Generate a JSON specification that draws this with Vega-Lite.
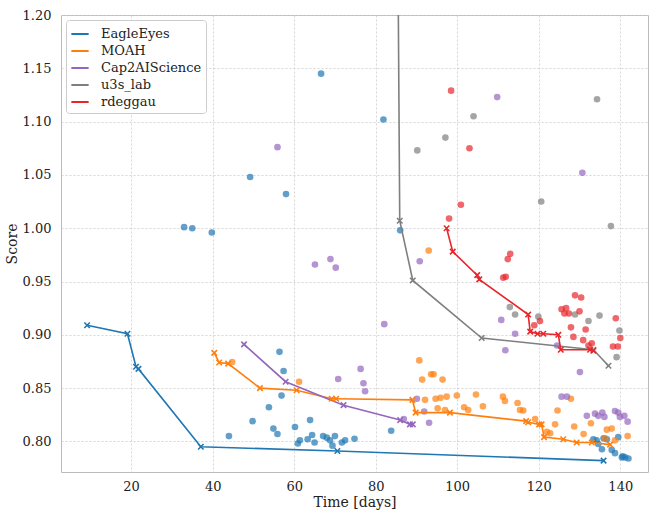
{
  "$schema": "https://vega.github.io/schema/vega-lite/v6.json",
  "width": 587,
  "height": 457,
  "autosize": {"type": "none"},
  "padding": {"left": 61, "top": 15, "right": 1, "bottom": 38},
  "background": "white",
  "config": {
    "font": "DejaVu Serif",
    "view": {"stroke": "#bbbbbb", "strokeWidth": 1},
    "axis": {
      "domain": false,
      "ticks": false,
      "grid": true,
      "gridColor": "#cccccc",
      "gridDash": [2, 2],
      "gridWidth": 0.8,
      "labelFont": "DejaVu Serif",
      "labelFontSize": 13,
      "labelColor": "#222222",
      "titleFont": "DejaVu Serif",
      "titleFontSize": 14,
      "titleFontWeight": "normal",
      "titleColor": "#222222"
    }
  },
  "datasets": {
    "front": [
      {"team": "EagleEyes", "time": 9.2, "score": 0.909},
      {"team": "EagleEyes", "time": 19.1, "score": 0.901},
      {"team": "EagleEyes", "time": 21.2, "score": 0.870},
      {"team": "EagleEyes", "time": 21.8, "score": 0.868},
      {"team": "EagleEyes", "time": 37.1, "score": 0.795},
      {"team": "EagleEyes", "time": 70.6, "score": 0.791},
      {"team": "EagleEyes", "time": 135.9, "score": 0.782},
      {"team": "MOAH", "time": 40.4, "score": 0.883},
      {"team": "MOAH", "time": 41.6, "score": 0.874},
      {"team": "MOAH", "time": 43.8, "score": 0.873},
      {"team": "MOAH", "time": 51.6, "score": 0.850},
      {"team": "MOAH", "time": 60.6, "score": 0.848},
      {"team": "MOAH", "time": 69.2, "score": 0.840},
      {"team": "MOAH", "time": 70.3, "score": 0.840},
      {"team": "MOAH", "time": 89.0, "score": 0.839},
      {"team": "MOAH", "time": 89.8, "score": 0.827},
      {"team": "MOAH", "time": 98.2, "score": 0.827},
      {"team": "MOAH", "time": 116.9, "score": 0.819},
      {"team": "MOAH", "time": 117.4, "score": 0.818},
      {"team": "MOAH", "time": 120.1, "score": 0.816},
      {"team": "MOAH", "time": 120.7, "score": 0.816},
      {"team": "MOAH", "time": 121.3, "score": 0.804},
      {"team": "MOAH", "time": 126.0, "score": 0.802},
      {"team": "MOAH", "time": 129.3, "score": 0.799},
      {"team": "MOAH", "time": 133.0, "score": 0.799},
      {"team": "MOAH", "time": 137.5, "score": 0.797},
      {"team": "Cap2AIScience", "time": 47.7, "score": 0.891},
      {"team": "Cap2AIScience", "time": 57.9, "score": 0.856},
      {"team": "Cap2AIScience", "time": 72.1, "score": 0.834},
      {"team": "Cap2AIScience", "time": 86.0, "score": 0.820},
      {"team": "Cap2AIScience", "time": 88.4, "score": 0.816},
      {"team": "Cap2AIScience", "time": 89.1, "score": 0.816},
      {"team": "u3s_lab", "time": 85.2, "score": 1.40},
      {"team": "u3s_lab", "time": 85.9, "score": 1.007},
      {"team": "u3s_lab", "time": 89.1, "score": 0.951},
      {"team": "u3s_lab", "time": 106.0, "score": 0.897},
      {"team": "u3s_lab", "time": 133.4, "score": 0.886},
      {"team": "u3s_lab", "time": 137.1, "score": 0.871},
      {"team": "rdeggau", "time": 97.4, "score": 1.000},
      {"team": "rdeggau", "time": 98.9, "score": 0.978},
      {"team": "rdeggau", "time": 104.9, "score": 0.956},
      {"team": "rdeggau", "time": 105.4, "score": 0.952},
      {"team": "rdeggau", "time": 117.4, "score": 0.919},
      {"team": "rdeggau", "time": 117.9, "score": 0.903},
      {"team": "rdeggau", "time": 119.7, "score": 0.901},
      {"team": "rdeggau", "time": 121.1, "score": 0.901},
      {"team": "rdeggau", "time": 124.8, "score": 0.900},
      {"team": "rdeggau", "time": 125.4, "score": 0.886},
      {"team": "rdeggau", "time": 132.6, "score": 0.886},
      {"team": "rdeggau", "time": 133.4, "score": 0.885}
    ],
    "pts": [
      {"team": "EagleEyes", "time": 66.6, "score": 1.145},
      {"team": "EagleEyes", "time": 81.9, "score": 1.102},
      {"team": "EagleEyes", "time": 49.2, "score": 1.048},
      {"team": "EagleEyes", "time": 58.0, "score": 1.032},
      {"team": "EagleEyes", "time": 33.0, "score": 1.001},
      {"team": "EagleEyes", "time": 35.0, "score": 1.000},
      {"team": "EagleEyes", "time": 39.8, "score": 0.996},
      {"team": "EagleEyes", "time": 86.0, "score": 0.998},
      {"team": "EagleEyes", "time": 44.0, "score": 0.805},
      {"team": "EagleEyes", "time": 49.8, "score": 0.819},
      {"team": "EagleEyes", "time": 53.8, "score": 0.832},
      {"team": "EagleEyes", "time": 54.9, "score": 0.812},
      {"team": "EagleEyes", "time": 55.9, "score": 0.807},
      {"team": "EagleEyes", "time": 56.4, "score": 0.884},
      {"team": "EagleEyes", "time": 57.4, "score": 0.866},
      {"team": "EagleEyes", "time": 56.9, "score": 0.843},
      {"team": "EagleEyes", "time": 60.2, "score": 0.8135},
      {"team": "EagleEyes", "time": 60.9, "score": 0.798},
      {"team": "EagleEyes", "time": 61.4, "score": 0.801},
      {"team": "EagleEyes", "time": 63.3, "score": 0.802},
      {"team": "EagleEyes", "time": 63.9, "score": 0.820},
      {"team": "EagleEyes", "time": 64.4, "score": 0.806},
      {"team": "EagleEyes", "time": 65.0, "score": 0.799},
      {"team": "EagleEyes", "time": 67.1, "score": 0.805},
      {"team": "EagleEyes", "time": 68.0, "score": 0.8035},
      {"team": "EagleEyes", "time": 68.8, "score": 0.801},
      {"team": "EagleEyes", "time": 70.0, "score": 0.805},
      {"team": "EagleEyes", "time": 69.4, "score": 0.796},
      {"team": "EagleEyes", "time": 71.7, "score": 0.799},
      {"team": "EagleEyes", "time": 72.5, "score": 0.801},
      {"team": "EagleEyes", "time": 74.8, "score": 0.8025},
      {"team": "EagleEyes", "time": 83.8, "score": 0.810},
      {"team": "EagleEyes", "time": 133.4, "score": 0.802},
      {"team": "EagleEyes", "time": 134.2, "score": 0.801},
      {"team": "EagleEyes", "time": 135.9, "score": 0.803},
      {"team": "EagleEyes", "time": 134.6, "score": 0.7976},
      {"team": "EagleEyes", "time": 135.5, "score": 0.7926},
      {"team": "EagleEyes", "time": 136.7, "score": 0.802},
      {"team": "EagleEyes", "time": 137.9, "score": 0.792},
      {"team": "EagleEyes", "time": 138.7, "score": 0.789},
      {"team": "EagleEyes", "time": 139.5, "score": 0.804},
      {"team": "EagleEyes", "time": 140.6, "score": 0.786},
      {"team": "EagleEyes", "time": 141.2, "score": 0.785},
      {"team": "EagleEyes", "time": 142.0, "score": 0.784},
      {"team": "EagleEyes", "time": 140.4, "score": 0.785},
      {"team": "MOAH", "time": 44.8, "score": 0.8745},
      {"team": "MOAH", "time": 61.2, "score": 0.856},
      {"team": "MOAH", "time": 93.0, "score": 0.979},
      {"team": "MOAH", "time": 90.7, "score": 0.876},
      {"team": "MOAH", "time": 91.4, "score": 0.858},
      {"team": "MOAH", "time": 93.6, "score": 0.863},
      {"team": "MOAH", "time": 94.2, "score": 0.863},
      {"team": "MOAH", "time": 96.4, "score": 0.858},
      {"team": "MOAH", "time": 92.1, "score": 0.839},
      {"team": "MOAH", "time": 94.7, "score": 0.840},
      {"team": "MOAH", "time": 95.9, "score": 0.841},
      {"team": "MOAH", "time": 97.4, "score": 0.842},
      {"team": "MOAH", "time": 95.2, "score": 0.831},
      {"team": "MOAH", "time": 97.0, "score": 0.8295},
      {"team": "MOAH", "time": 99.9, "score": 0.843},
      {"team": "MOAH", "time": 104.6, "score": 0.844},
      {"team": "MOAH", "time": 106.3, "score": 0.833},
      {"team": "MOAH", "time": 111.2, "score": 0.842},
      {"team": "MOAH", "time": 111.7, "score": 0.838},
      {"team": "MOAH", "time": 114.8, "score": 0.836},
      {"team": "MOAH", "time": 115.4, "score": 0.8295},
      {"team": "MOAH", "time": 116.2, "score": 0.829},
      {"team": "MOAH", "time": 101.7, "score": 0.832},
      {"team": "MOAH", "time": 102.7, "score": 0.8295},
      {"team": "MOAH", "time": 119.1, "score": 0.821},
      {"team": "MOAH", "time": 122.8, "score": 0.8076},
      {"team": "MOAH", "time": 124.0, "score": 0.816},
      {"team": "MOAH", "time": 124.6, "score": 0.829},
      {"team": "MOAH", "time": 127.9, "score": 0.840},
      {"team": "MOAH", "time": 128.7, "score": 0.814},
      {"team": "MOAH", "time": 131.0, "score": 0.807},
      {"team": "MOAH", "time": 132.8, "score": 0.817},
      {"team": "MOAH", "time": 136.7, "score": 0.811},
      {"team": "MOAH", "time": 137.9, "score": 0.812},
      {"team": "MOAH", "time": 136.3, "score": 0.803},
      {"team": "MOAH", "time": 138.7, "score": 0.801},
      {"team": "MOAH", "time": 141.8, "score": 0.805},
      {"team": "MOAH", "time": 122.0, "score": 0.809},
      {"team": "Cap2AIScience", "time": 55.9, "score": 1.076},
      {"team": "Cap2AIScience", "time": 65.1, "score": 0.966},
      {"team": "Cap2AIScience", "time": 68.9, "score": 0.971},
      {"team": "Cap2AIScience", "time": 70.2, "score": 0.963},
      {"team": "Cap2AIScience", "time": 90.8, "score": 0.969},
      {"team": "Cap2AIScience", "time": 109.8, "score": 1.123},
      {"team": "Cap2AIScience", "time": 130.7, "score": 1.052},
      {"team": "Cap2AIScience", "time": 82.1, "score": 0.910},
      {"team": "Cap2AIScience", "time": 76.3, "score": 0.868},
      {"team": "Cap2AIScience", "time": 70.8, "score": 0.8585},
      {"team": "Cap2AIScience", "time": 77.0, "score": 0.8545},
      {"team": "Cap2AIScience", "time": 77.4, "score": 0.847},
      {"team": "Cap2AIScience", "time": 86.9, "score": 0.821},
      {"team": "Cap2AIScience", "time": 90.1, "score": 0.840},
      {"team": "Cap2AIScience", "time": 91.9, "score": 0.828},
      {"team": "Cap2AIScience", "time": 93.1, "score": 0.8175},
      {"team": "Cap2AIScience", "time": 110.8, "score": 0.914},
      {"team": "Cap2AIScience", "time": 114.2, "score": 0.901},
      {"team": "Cap2AIScience", "time": 111.8, "score": 0.8855},
      {"team": "Cap2AIScience", "time": 130.1, "score": 0.865},
      {"team": "Cap2AIScience", "time": 125.6, "score": 0.842},
      {"team": "Cap2AIScience", "time": 126.9, "score": 0.842},
      {"team": "Cap2AIScience", "time": 131.8, "score": 0.824},
      {"team": "Cap2AIScience", "time": 133.8, "score": 0.826},
      {"team": "Cap2AIScience", "time": 134.6, "score": 0.824},
      {"team": "Cap2AIScience", "time": 135.6, "score": 0.827},
      {"team": "Cap2AIScience", "time": 136.1, "score": 0.823},
      {"team": "Cap2AIScience", "time": 138.7, "score": 0.8285},
      {"team": "Cap2AIScience", "time": 139.5, "score": 0.827},
      {"team": "Cap2AIScience", "time": 139.9, "score": 0.823},
      {"team": "Cap2AIScience", "time": 141.0, "score": 0.824},
      {"team": "Cap2AIScience", "time": 141.8, "score": 0.8185},
      {"team": "Cap2AIScience", "time": 124.5, "score": 0.890},
      {"team": "u3s_lab", "time": 90.2, "score": 1.073},
      {"team": "u3s_lab", "time": 97.1, "score": 1.085},
      {"team": "u3s_lab", "time": 104.0, "score": 1.105},
      {"team": "u3s_lab", "time": 134.3, "score": 1.121},
      {"team": "u3s_lab", "time": 120.6, "score": 1.025},
      {"team": "u3s_lab", "time": 137.7, "score": 1.002},
      {"team": "u3s_lab", "time": 112.9, "score": 0.926},
      {"team": "u3s_lab", "time": 114.2, "score": 0.919},
      {"team": "u3s_lab", "time": 119.9, "score": 0.917},
      {"team": "u3s_lab", "time": 128.9, "score": 0.919},
      {"team": "u3s_lab", "time": 132.2, "score": 0.913},
      {"team": "u3s_lab", "time": 134.9, "score": 0.918},
      {"team": "u3s_lab", "time": 139.8, "score": 0.904},
      {"team": "u3s_lab", "time": 139.1, "score": 0.879},
      {"team": "rdeggau", "time": 98.5, "score": 1.129},
      {"team": "rdeggau", "time": 103.0, "score": 1.075},
      {"team": "rdeggau", "time": 100.9, "score": 1.022},
      {"team": "rdeggau", "time": 98.0, "score": 1.009},
      {"team": "rdeggau", "time": 113.0, "score": 0.976},
      {"team": "rdeggau", "time": 112.4, "score": 0.971},
      {"team": "rdeggau", "time": 111.9, "score": 0.9545},
      {"team": "rdeggau", "time": 111.3, "score": 0.9536},
      {"team": "rdeggau", "time": 128.9, "score": 0.937},
      {"team": "rdeggau", "time": 130.4, "score": 0.935},
      {"team": "rdeggau", "time": 125.6, "score": 0.924},
      {"team": "rdeggau", "time": 126.7, "score": 0.925},
      {"team": "rdeggau", "time": 126.3, "score": 0.920},
      {"team": "rdeggau", "time": 127.4, "score": 0.920},
      {"team": "rdeggau", "time": 130.0, "score": 0.922},
      {"team": "rdeggau", "time": 127.9, "score": 0.907},
      {"team": "rdeggau", "time": 131.5, "score": 0.905},
      {"team": "rdeggau", "time": 128.5, "score": 0.898},
      {"team": "rdeggau", "time": 130.9, "score": 0.895},
      {"team": "rdeggau", "time": 132.2, "score": 0.890},
      {"team": "rdeggau", "time": 133.0, "score": 0.892},
      {"team": "rdeggau", "time": 138.9, "score": 0.9155},
      {"team": "rdeggau", "time": 140.0, "score": 0.897},
      {"team": "rdeggau", "time": 138.2, "score": 0.889},
      {"team": "rdeggau", "time": 139.4, "score": 0.889},
      {"team": "rdeggau", "time": 120.3, "score": 0.913},
      {"team": "rdeggau", "time": 118.9, "score": 0.909}
    ]
  },
  "encoding": {
    "x": {
      "field": "time",
      "type": "quantitative",
      "scale": {"domain": [2.8, 146.8], "nice": false, "zero": false},
      "axis": {"values": [20, 40, 60, 80, 100, 120, 140], "title": "Time [days]", "labelPadding": 8, "titlePadding": 2}
    },
    "y": {
      "field": "score",
      "type": "quantitative",
      "scale": {"domain": [0.7713, 1.2], "nice": false, "zero": false},
      "axis": {"values": [0.8, 0.85, 0.9, 0.95, 1.0, 1.05, 1.1, 1.15, 1.2], "format": ".2f", "title": "Score", "labelPadding": 10, "titlePadding": 3}
    },
    "color": {
      "field": "team",
      "type": "nominal",
      "scale": {
        "domain": ["EagleEyes", "MOAH", "Cap2AIScience", "u3s_lab", "rdeggau"],
        "range": ["#1f77b4", "#ff7f0e", "#9467bd", "#7f7f7f", "#e8262b"]
      },
      "legend": {
        "title": null,
        "orient": "none",
        "legendX": 5,
        "legendY": 5,
        "symbolType": "stroke",
        "symbolStrokeWidth": 2,
        "symbolSize": 300,
        "symbolOpacity": 1,
        "labelFont": "DejaVu Serif",
        "labelFontSize": 13,
        "labelColor": "#222222",
        "rowPadding": -0.3,
        "padding": 4,
        "fillColor": "white",
        "strokeColor": "#cccccc",
        "cornerRadius": 3,
        "labelOffset": 11
      }
    }
  },
  "layer": [
    {
      "data": {"name": "pts"},
      "mark": {"type": "circle", "size": 44, "opacity": 0.7, "clip": true}
    },
    {
      "data": {"name": "front"},
      "mark": {"type": "line", "strokeWidth": 1.6, "clip": true}
    },
    {
      "data": {"name": "front"},
      "mark": {"type": "point", "shape": "M-1,-1L1,1M1,-1L-1,1", "size": 30, "filled": false, "strokeWidth": 1.6, "opacity": 1, "clip": true}
    }
  ]
}
